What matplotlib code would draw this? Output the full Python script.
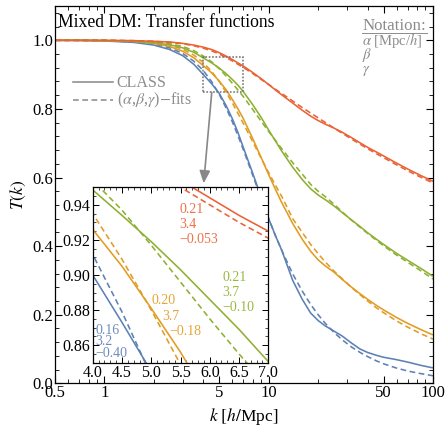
import matplotlib
matplotlib.use("Agg")
import matplotlib.pyplot as plt
from matplotlib.patches import Rectangle
from matplotlib.ticker import FixedLocator, MultipleLocator, NullFormatter

plt.rcParams['font.family'] = ['Liberation Serif', 'DejaVu Serif']
plt.rcParams['mathtext.fontset'] = 'stix'

# ---------------- data ----------------
k = [0.5, 0.7, 1, 1.5, 2, 2.5, 3, 3.5, 4, 4.5, 5, 5.5, 6, 6.5, 7, 8, 9, 10, 11, 12,
     14, 16, 18, 20, 22, 25, 28, 32, 36, 40, 45, 50, 60, 70, 85, 100]

red_class = [1.000, 1.000, 1.000, 0.999, 0.997, 0.995, 0.991, 0.986, 0.980, 0.973, 0.964, 0.954,
             0.944, 0.934, 0.925, 0.906, 0.888, 0.871, 0.855, 0.841, 0.817, 0.796, 0.779, 0.766,
             0.756, 0.744, 0.732, 0.716, 0.701, 0.688, 0.675, 0.663, 0.642, 0.625, 0.605, 0.589]
red_fit = [1.000, 1.000, 1.000, 0.999, 0.997, 0.994, 0.990, 0.984, 0.977, 0.969, 0.960, 0.950,
           0.940, 0.930, 0.921, 0.903, 0.886, 0.871, 0.857, 0.845, 0.823, 0.804, 0.788, 0.774,
           0.761, 0.744, 0.729, 0.712, 0.697, 0.684, 0.670, 0.658, 0.637, 0.620, 0.600, 0.584]

green_class = [1.000, 1.000, 0.999, 0.997, 0.993, 0.987, 0.978, 0.965, 0.9485, 0.934, 0.919, 0.903,
               0.886, 0.869, 0.8506, 0.812, 0.775, 0.738, 0.706, 0.677, 0.630, 0.594, 0.567, 0.549,
               0.536, 0.517, 0.498, 0.476, 0.457, 0.439, 0.421, 0.405, 0.379, 0.359, 0.334, 0.312]
green_fit = [1.000, 1.000, 1.000, 0.998, 0.996, 0.990, 0.982, 0.970, 0.954, 0.937, 0.917, 0.896,
             0.875, 0.855, 0.836, 0.798, 0.764, 0.734, 0.708, 0.684, 0.643, 0.610, 0.580, 0.560,
             0.545, 0.522, 0.500, 0.475, 0.455, 0.437, 0.418, 0.401, 0.374, 0.353, 0.327, 0.304]

orange_class = [1.000, 1.000, 0.999, 0.997, 0.991, 0.982, 0.968, 0.949, 0.926, 0.905, 0.881, 0.856,
                0.828, 0.800, 0.772, 0.713, 0.658, 0.608, 0.565, 0.527, 0.466, 0.420, 0.385, 0.360,
                0.343, 0.324, 0.303, 0.280, 0.261, 0.245, 0.228, 0.214, 0.192, 0.175, 0.156, 0.141]
orange_fit = [1.000, 1.000, 0.9995, 0.998, 0.994, 0.986, 0.974, 0.957, 0.935, 0.909, 0.880, 0.849,
              0.818, 0.787, 0.758, 0.704, 0.656, 0.614, 0.577, 0.545, 0.480, 0.440, 0.405, 0.378,
              0.355, 0.327, 0.305, 0.279, 0.258, 0.240, 0.221, 0.206, 0.182, 0.164, 0.144, 0.129]

blue_class = [1.000, 0.9995, 0.998, 0.994, 0.986, 0.973, 0.955, 0.930, 0.900, 0.873, 0.845, 0.810,
              0.772, 0.731, 0.688, 0.612, 0.543, 0.480, 0.430, 0.388, 0.300, 0.245, 0.205, 0.183,
              0.168, 0.152, 0.138, 0.117, 0.100, 0.090, 0.082, 0.076, 0.069, 0.062, 0.052, 0.045]
blue_fit = [1.000, 0.9996, 0.9988, 0.9956, 0.989, 0.978, 0.9615, 0.939, 0.9117, 0.879, 0.8425, 0.803,
            0.763, 0.722, 0.682, 0.606, 0.539, 0.480, 0.430, 0.388, 0.319, 0.269, 0.230, 0.200,
            0.176, 0.148, 0.127, 0.1055, 0.090, 0.078, 0.066, 0.057, 0.0445, 0.036, 0.028, 0.022]

# fit parameters shown in the inset: alpha [Mpc/h], beta, gamma
red_params = ["0.21", "3.4", "\u22120.053"]
green_params = ["0.21", "3.7", "\u22120.10"]
orange_params = ["0.20", "3.7", "\u22120.18"]
blue_params = ["0.16", "3.2", "\u22120.40"]

x_ticks = [0.5, 1, 5, 10, 50, 100]
x_ticklabels = ["0.5", "1", "5", "10", "50", "100"]
inset_xticks = [4.0, 4.5, 5.0, 5.5, 6.0, 6.5, 7.0]
inset_yticks = [0.86, 0.88, 0.90, 0.92, 0.94]

# ---------------- styling ----------------
C_BLUE = '#5E81B5'
C_ORANGE = '#E19C24'
C_GREEN = '#8FB032'
C_RED = '#EB6235'
GRAY = '#8c8c8c'
LW = 1.15
DASH = (0, (3.6, 2.2))

series = [
    (red_class, red_fit, C_RED),
    (green_class, green_fit, C_GREEN),
    (orange_class, orange_fit, C_ORANGE),
    (blue_class, blue_fit, C_BLUE),
]

fig = plt.figure(figsize=(4.47, 4.28), dpi=100)
ax = fig.add_axes([0.1230, 0.1044, 0.8456, 0.8816])

for cl, ft, c in series[::-1]:
    ax.plot(k, cl, color=c, lw=LW, solid_capstyle='butt')
    ax.plot(k, ft, color=c, lw=LW, linestyle=DASH)

ax.set_xscale('log')
ax.set_xlim(0.5, 100)
ax.set_ylim(0.0, 1.1)
ax.xaxis.set_major_locator(FixedLocator(x_ticks))
ax.set_xticklabels(x_ticklabels)
minors = [0.6, 0.7, 0.8, 0.9, 2, 3, 4, 6, 7, 8, 9, 20, 30, 40, 60, 70, 80, 90]
ax.xaxis.set_minor_locator(FixedLocator(minors))
ax.xaxis.set_minor_formatter(NullFormatter())
ax.yaxis.set_major_locator(FixedLocator([0.0, 0.2, 0.4, 0.6, 0.8, 1.0]))
ax.set_yticklabels(["0.0", "0.2", "0.4", "0.6", "0.8", "1.0"])
ax.yaxis.set_minor_locator(MultipleLocator(0.04))
ax.tick_params(which='both', direction='in', top=True, right=True, labelsize=12)
ax.tick_params(which='major', length=5, width=0.8)
ax.tick_params(which='minor', length=2.8, width=0.6)
ax.tick_params(axis='x', pad=1.5)
ax.tick_params(axis='y', pad=1.5)
for s in ax.spines.values():
    s.set_linewidth(0.9)

ax.set_xlabel(r'$k\ [h/$Mpc$]$', fontsize=12.5, labelpad=3)
ax.set_ylabel(r'$T(k)$', fontsize=12.5, labelpad=3)

ax.text(0.008, 0.978, 'Mixed DM: Transfer functions', transform=ax.transAxes,
        fontsize=12.7, ha='left', va='top', color='black')

# notation block
nx = 362.3 / 447
def fy(py):
    return 1 - py / 428
fig.text(nx, fy(30.5), 'Notation:', fontsize=12.2, color=GRAY, ha='left', va='baseline')
fig.add_artist(plt.Line2D([nx, 426.5 / 447], [fy(32.8), fy(32.8)], color=GRAY, lw=0.7))
fig.text(nx, fy(45), r'$\alpha$ [Mpc/$h$]', fontsize=10.5, color=GRAY, ha='left', va='baseline')
fig.text(nx, fy(58.5), r'$\beta$', fontsize=10.5, color=GRAY, ha='left', va='baseline')
fig.text(nx, fy(72.5), r'$\gamma$', fontsize=10.5, color=GRAY, ha='left', va='baseline')

# legend
lx0, lx1 = 73.3 / 447, 113.3 / 447
fig.add_artist(plt.Line2D([lx0, lx1], [fy(82)] * 2, color=GRAY, lw=LW))
fig.add_artist(plt.Line2D([lx0, lx1], [fy(100)] * 2, color=GRAY, lw=LW, linestyle=DASH))
fig.text(116.7 / 447, fy(83), 'CLASS', fontsize=11.5, color=GRAY, ha='left', va='center')
fig.text(116.7 / 447, fy(100), r'($\alpha$,$\beta$,$\gamma$)$-$fits', fontsize=11.5,
         color=GRAY, ha='left', va='center')

# zoom rectangle and arrow
ax.add_patch(Rectangle((4.0, 0.85), 3.0, 0.10, fill=False, edgecolor='#707070',
                       lw=1.1, linestyle=(0, (1.1, 1.1)), zorder=5))
ax.annotate('', xy=(4.02, 0.583), xytext=(4.5, 0.848),
            arrowprops=dict(arrowstyle='-|>,head_length=0.75,head_width=0.32', color='#888888',
                            lw=1.2, shrinkA=0, shrinkB=0), zorder=6)

# ---------------- inset ----------------
ins = fig.add_axes([92.7 / 447, 1 - 362.7 / 428, (268.3 - 92.7) / 447, (362.7 - 187.3) / 428])
ins.set_facecolor('white')
for cl, ft, c in series[::-1]:
    ins.plot(k, cl, color=c, lw=LW)
    ins.plot(k, ft, color=c, lw=LW, linestyle=DASH)
ins.set_xlim(4.0, 7.0)
ins.set_ylim(0.85, 0.95)
ins.xaxis.set_major_locator(FixedLocator(inset_xticks))
ins.set_xticklabels([f"{v:.1f}" for v in inset_xticks])
ins.xaxis.set_minor_locator(MultipleLocator(0.1))
ins.yaxis.set_major_locator(FixedLocator(inset_yticks))
ins.set_yticklabels([f"{v:.2f}" for v in inset_yticks])
ins.yaxis.set_minor_locator(MultipleLocator(0.005))
ins.tick_params(which='both', direction='in', top=True, right=True, labelsize=11.5)
ins.tick_params(which='major', length=4, width=0.7)
ins.tick_params(which='minor', length=2, width=0.5)
ins.tick_params(axis='both', pad=1.5)
for s in ins.spines.values():
    s.set_linewidth(0.9)

FS = 10
def lab(x, y, s, c):
    ins.text(x, y, s, color=c, fontsize=FS, ha='left', va='center', alpha=0.9)

lab(5.48, 0.9375, red_params[0], C_RED)
lab(5.48, 0.9290, red_params[1], C_RED)
lab(5.48, 0.9205, red_params[2], C_RED)

lab(6.22, 0.8985, green_params[0], C_GREEN)
lab(6.22, 0.8900, green_params[1], C_GREEN)
lab(6.22, 0.8815, green_params[2], C_GREEN)

lab(5.00, 0.8855, orange_params[0], C_ORANGE)
lab(5.18, 0.8765, orange_params[1], C_ORANGE)
lab(5.31, 0.8680, orange_params[2], C_ORANGE)

lab(4.05, 0.8685, blue_params[0], C_BLUE)
lab(4.05, 0.8620, blue_params[1], C_BLUE)
lab(4.05, 0.8555, blue_params[2], C_BLUE)

fig.savefig('out.png', dpi=100)
